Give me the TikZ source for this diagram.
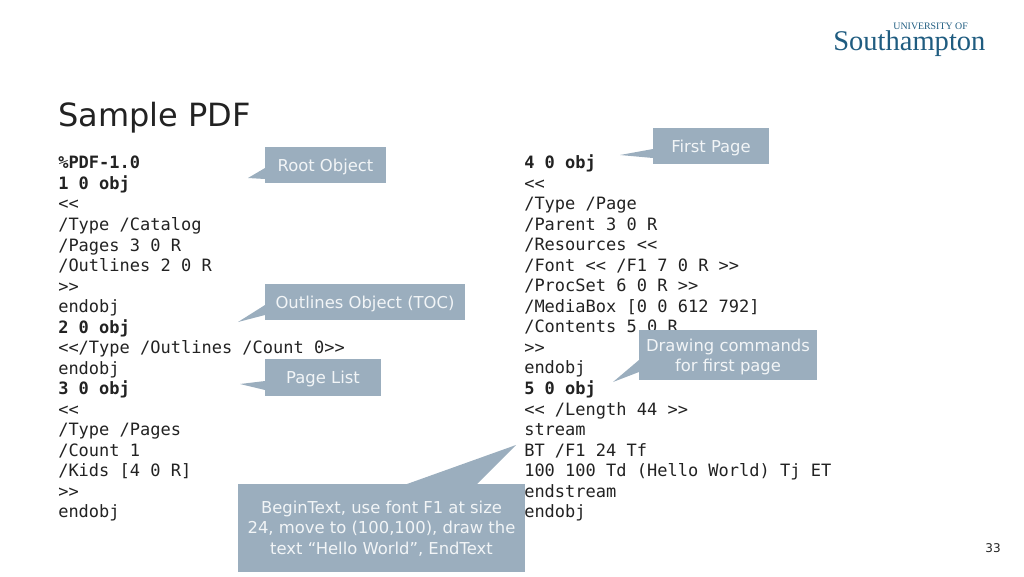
\documentclass[tikz,border=0pt]{standalone}
\usepackage{fontspec}
\setmainfont{DejaVu Sans}
\newfontfamily\codefont{DejaVu Sans Mono}
\newfontfamily\logofont{Liberation Serif}
\usepackage{tikz}
\definecolor{calloutblue}{HTML}{9BAEBE}
\definecolor{calloutlabel}{HTML}{F2F5F7}
\definecolor{logoblue}{HTML}{1F5C80}
\definecolor{titleink}{HTML}{222222}
\tikzset{
    codeblock/.style={anchor=north west,inner sep=0pt,align=left,text=titleink,font=\codefont\fontsize{12.75}{15.4}\selectfont},
    calloutbox/.style={fill=calloutblue,inner sep=0pt},
    calloutword/.style={text=calloutlabel,inner sep=0pt,align=center,yshift=-1.3pt,font=\fontsize{12.3}{15.4}\selectfont},
    calloutarm/.style={fill=calloutblue,draw=none}
}
\begin{document}
\begin{tikzpicture}[x=0.75pt,y=-0.75pt]
    \useasboundingbox (0,0) rectangle (1024,576);
    \node[inner sep=0pt,text=titleink,font=\fontsize{24}{30}\selectfont,anchor=base west] (title) at (58,126) {Sample PDF};

    % logo
    \node[inner sep=0pt,text=logoblue,font=\logofont\fontsize{21.4}{22}\selectfont,anchor=base west] (logoname) at (833,50) {Southampton};
    \node[inner sep=0pt,text=logoblue,font=\logofont\fontsize{7.4}{8}\selectfont,anchor=base east] (logouni) at (968,29.5) {UNIVERSITY OF};

    % code columns
    \node[codeblock] (leftcode) at (58,156) {\textbf{\%PDF-1.0}\\
        \textbf{1 0 obj}\\
        <{}<\\
        /Type /Catalog\\
        /Pages 3 0 R\\
        /Outlines 2 0 R\\
        >{}>\\
        endobj\\
        \textbf{2 0 obj}\\
        <{}</Type /Outlines /Count 0>{}>\\
        endobj\\
        \textbf{3 0 obj}\\
        <{}<\\
        /Type /Pages\\
        /Count 1\\
        /Kids [4 0 R]\\
        >{}>\\
        endobj};
    \node[codeblock] (rightcode) at (524,154.5) {\textbf{4 0 obj}\\
        <{}<\\
        /Type /Page\\
        /Parent 3 0 R\\
        /Resources <{}<\\
        /Font <{}< /F1 7 0 R >{}>\\
        /ProcSet 6 0 R >{}>\\
        /MediaBox [0 0 612 792]\\
        /Contents 5 0 R\\
        >{}>\\
        endobj\\
        \textbf{5 0 obj}\\
        <{}< /Length 44 >{}>\\
        stream\\
        BT /F1 24 Tf\\
        100 100 Td (Hello World) Tj ET\\
        endstream\\
        endobj};

    % callouts
    \node[calloutbox,minimum width=90.75pt,minimum height=27pt] (rootbox) at (325.5,165) {};
    \node[calloutword] (rootword) at (rootbox.center) {Root Object};
    \coordinate (roottip) at (248,178);
    \fill[calloutarm] (265,179) -- (roottip) -- (265,168) -- cycle;

    \node[calloutbox,minimum width=150pt,minimum height=27pt] (outlinesbox) at (365,302) {};
    \node[calloutword] (outlinesword) at (outlinesbox.center) {Outlines Object (TOC)};
    \coordinate (outlinestip) at (238,322);
    \fill[calloutarm] (265,315) -- (outlinestip) -- (265,305) -- cycle;

    \node[calloutbox,minimum width=87pt,minimum height=27.75pt] (pagesbox) at (323,377.5) {};
    \node[calloutword] (pagesword) at (pagesbox.center) {Page List};
    \coordinate (pagestip) at (240,384);
    \fill[calloutarm] (265,390) -- (pagestip) -- (265,381) -- cycle;

    \node[calloutbox,minimum width=87pt,minimum height=27pt] (firstbox) at (711,146) {};
    \node[calloutword] (firstword) at (firstbox.center) {First Page};
    \coordinate (firsttip) at (620,155);
    \fill[calloutarm] (653,158) -- (firsttip) -- (653,149) -- cycle;

    \node[calloutbox,minimum width=133.5pt,minimum height=37.5pt] (drawingbox) at (728,355) {};
    \node[calloutword] (drawingword) at (drawingbox.center) {Drawing commands\\for first page};
    \coordinate (drawingtip) at (613,382);
    \fill[calloutarm] (639,372) -- (drawingtip) -- (639,360) -- cycle;

    \node[calloutbox,minimum width=215.25pt,minimum height=66pt] (textbox) at (381.5,528) {};
    \node[calloutword,yshift=1pt] (textword) at (textbox.center) {BeginText, use font F1 at size\\24, move to (100,100), draw the\\text “Hello World”, EndText};
    \coordinate (texttip) at (516,445);
    \fill[calloutarm] (407,484) -- (texttip) -- (477,484) -- cycle;

    \node[inner sep=0pt,text=titleink,font=\fontsize{9}{11}\selectfont] (pagenum) at (993,548) {33};
\end{tikzpicture}
\end{document}
